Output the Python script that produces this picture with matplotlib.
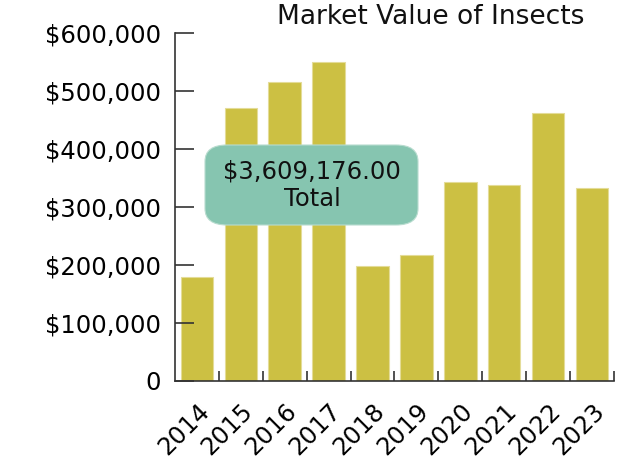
import matplotlib
matplotlib.use("Agg")
import matplotlib.pyplot as plt
from matplotlib.patches import FancyBboxPatch
from matplotlib.ticker import FuncFormatter, FixedLocator
import numpy as np

plt.rcParams['font.family'] = ['DejaVu Sans']

years = ["2014", "2015", "2016", "2017", "2018", "2019", "2020", "2021", "2022", "2023"]
values = [179500, 471500, 515500, 550500, 198500, 217500, 342500, 338500, 461500, 333176]
total_label = "$3,609,176.00\nTotal"
title = "Market Value of Insects"
yticks = [0, 100000, 200000, 300000, 400000, 500000, 600000]

fig = plt.figure(figsize=(6.31, 4.70), dpi=100)
ax = fig.add_axes([0.2773, 0.1894, 0.6957, 0.7404])

x = np.arange(len(years))
ax.bar(x, values, width=0.74, color="#CCC043", edgecolor="#E4DC98", linewidth=0.8)

ax.set_xlim(-0.5, len(years) - 0.5)
ax.set_ylim(0, 600000)
ax.set_yticks(yticks)
ax.yaxis.set_major_formatter(FuncFormatter(lambda v, p: "0" if v == 0 else "${:,.0f}".format(v)))
ax.set_xticks(x)
ax.set_xticklabels(years, rotation=45, ha="right", rotation_mode="anchor", fontsize=17.5)
ax.xaxis.set_minor_locator(FixedLocator(np.arange(len(years)) + 0.5))
ax.tick_params(axis="x", which="major", length=0, pad=13)
ax.tick_params(axis="x", which="minor", direction="in", length=7, width=1.2, color="#333333")
ax.tick_params(axis="y", direction="in", length=14, width=1.2, color="#333333", labelsize=17.5, pad=10)

for s in ["top", "right"]:
    ax.spines[s].set_visible(False)
for s in ["left", "bottom"]:
    ax.spines[s].set_color("#333333")
    ax.spines[s].set_linewidth(1.2)

box = FancyBboxPatch((205 / 631, 1 - 225 / 470), (418 - 205) / 631, (225 - 145) / 470,
                     boxstyle="round,pad=0,rounding_size=0.035", transform=fig.transFigure,
                     facecolor="#86C5B0", edgecolor="#B8DCCF", linewidth=0.8, zorder=5)
fig.patches.append(box)
fig.text(312 / 631, 1 - 185 / 470, total_label, ha="center", va="center",
         fontsize=17.5, linespacing=1.2, color="#111111", zorder=6)

fig.text(431 / 631, 1 - 17 / 470, title, ha="center", va="center", fontsize=19, color="#111111")

fig.savefig("out.png", dpi=100)
